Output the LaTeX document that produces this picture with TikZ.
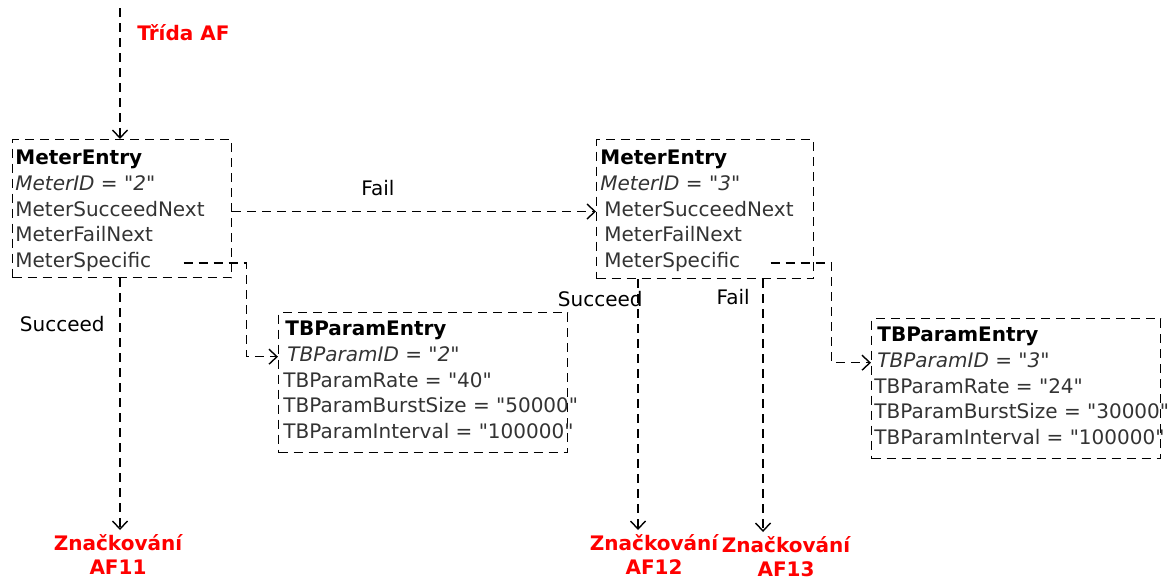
\documentclass[tikz,border=0pt]{standalone}
\usepackage{fontspec}
\setmainfont{DejaVu Sans}
\usepackage{tikz}
\usetikzlibrary{arrows.meta,positioning}
\newcommand{\val}[1]{\textquotedbl#1\textquotedbl}
\tikzset{
  dashes/.style={dash pattern=on 4.5pt off 3pt, line width=0.7pt},
  box/.style={draw, dashes, anchor=north west, inner sep=0pt},
  row/.style={inner sep=0pt, text height=8.5pt, text depth=4pt, text=black!80},
  head/.style={row, text=black, font=\bfseries},
  key/.style={row, font=\itshape},
  afmark/.style={text=red, font=\bfseries, align=center, inner sep=2pt},
  flow/.style={dashes, -{Straight Barb[length=4pt,width=7.5pt]}}
}

\begin{document}
\begin{tikzpicture}[x=0.5pt, y=-0.5pt]
    \useasboundingbox (0,0) rectangle (1170,580);

    % meter entry 2
    \node[box, minimum width=109.5pt, minimum height=69pt] (m1) at (12,139) {};
    \node[head, below right=4pt and 1.5pt of m1.north west] (m1-head) {MeterEntry};
    \node[key, below right=0pt of m1-head.south west] (m1-id) {MeterID = \val{2}};
    \node[row, below right=0pt of m1-id.south west] (m1-succ) {MeterSucceedNext};
    \node[row, below right=0pt of m1-succ.south west] (m1-fail) {MeterFailNext};
    \node[row, below right=0pt of m1-fail.south west] (m1-spec) {MeterSpecific};

    % meter entry 3
    \node[box, minimum width=108.5pt, minimum height=69.5pt] (m2) at (596,139) {};
    \node[head, below right=4pt and 2pt of m2.north west] (m2-head) {MeterEntry};
    \node[key, below right=0pt and 0pt of m2-head.south west] (m2-id) {MeterID = \val{3}};
    \node[row, below right=0pt and 2pt of m2-id.south west] (m2-succ) {MeterSucceedNext};
    \node[row, below right=0pt of m2-succ.south west] (m2-fail) {MeterFailNext};
    \node[row, below right=0pt of m2-fail.south west] (m2-spec) {MeterSpecific};

    % token bucket parameters
    \node[box, minimum width=144.5pt, minimum height=70pt] (tb1) at (278,312) {};
    \node[head, below right=3pt and 3.5pt of tb1.north west] (tb1-head) {TBParamEntry};
    \node[key, below right=0pt and 1pt of tb1-head.south west] (tb1-id) {TBParamID = \val{2}};
    \node[row, below right=0pt and -2pt of tb1-id.south west] (tb1-rate) {TBParamRate = \val{40}};
    \node[row, below right=0pt of tb1-rate.south west] (tb1-burst) {TBParamBurstSize = \val{50000}};
    \node[row, below right=0pt of tb1-burst.south west] (tb1-int) {TBParamInterval = \val{100000}};

    \node[box, minimum width=144.5pt, minimum height=70pt] (tb2) at (871,318) {};
    \node[head, below right=3pt and 3pt of tb2.north west] (tb2-head) {TBParamEntry};
    \node[key, below right=0pt of tb2-head.south west] (tb2-id) {TBParamID = \val{3}};
    \node[row, below right=0pt and -1.5pt of tb2-id.south west] (tb2-rate) {TBParamRate = \val{24}};
    \node[row, below right=0pt of tb2-rate.south west] (tb2-burst) {TBParamBurstSize = \val{30000}};
    \node[row, below right=0pt of tb2-burst.south west] (tb2-int) {TBParamInterval = \val{100000}};

    % marking targets
    \node[afmark, anchor=north] (af11) at (118,530) {Značkování\\AF11};
    \node[afmark, anchor=north] (af12) at (654,530) {Značkování\\AF12};
    \node[afmark, anchor=north] (af13) at (786,532) {Značkování\\AF13};

    \coordinate (afin) at (120,8);
    \coordinate[right=7pt of m1.east] (m1-bend);
    \coordinate[right=8.5pt of m2.east] (m2-bend);
    \coordinate[right=21pt of m2.south west] (m2-ok);
    \coordinate[right=83.5pt of m2.south west] (m2-nok);

    \draw[flow] (afin) -- (afin |- m1.north) node[pos=0.19, right=5pt] (afclass) {\textcolor{red}{\bfseries Třída AF}};
    \draw[flow] (m1-succ -| m1.east) -- (m1-succ -| m2.west) node[pos=0.4, above=4pt] (failA) {Fail};
    \draw[flow] ([xshift=16pt]m1-spec.east) -| (m1-bend |- tb1-id) -- (tb1-id -| tb1.west);
    \draw[flow] (m1.south -| afin) -- (afin |- af11.north) node[pos=0.18, left=4pt] (okA) {Succeed};
    \draw[flow] (m2-ok) -- (m2-ok |- af12.north) node[pos=0.08, anchor=east, xshift=6pt] (okB) {Succeed};
    \draw[flow] (m2-nok) -- (m2-nok |- af13.north) node[pos=0.07, left=3pt] (failB) {Fail};
    \draw[flow] ([xshift=15pt]m2-spec.east) -| (m2-bend |- tb2-id) -- (tb2-id -| tb2.west);
  \end{tikzpicture}
\end{document}
